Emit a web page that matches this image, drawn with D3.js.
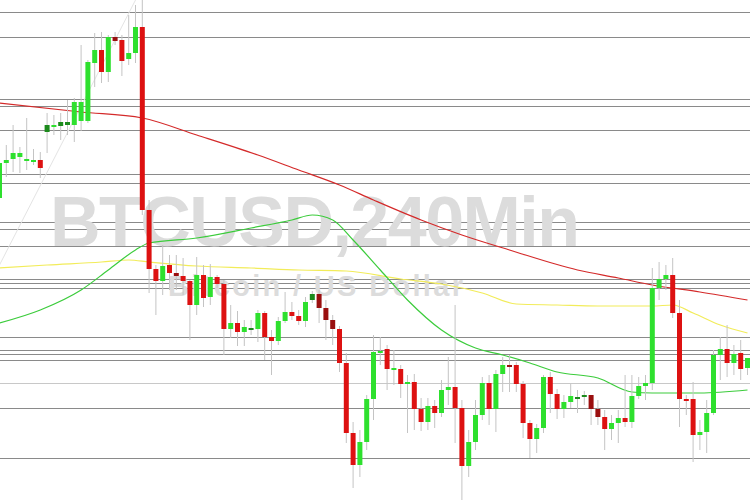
<!DOCTYPE html>
<html><head><meta charset="utf-8">
<script src="https://cdn.jsdelivr.net/npm/d3@7"></script>
<style>body{margin:0;background:#fff}svg{display:block}</style>
</head><body>
<script>
// price units: chart-level values
const opens  = [302,337,341,343,340,340,340,368,375,374,375,375,379,379,437,450,428,463,460,441,447,473,290,231,219,235,227,224,219,195,225,203,223,216,171,177,168,172,171,187,163,159,179,188,184,179,200,206,192,180,171,137,67,35,58,101,149,151,132,131,116,118,91,78,94,87,110,113,92,34,58,85,117,91,126,135,135,116,77,61,72,123,106,91,98,103,105,105,91,83,71,77,82,78,104,114,117,212,221,225,187,101,101,65,68,87,145,151,137,147,132];
const closes = [337,340,347,347,341,340,332,375,375,378,378,398,398,438,450,428,463,459,439,447,473,290,231,219,234,227,224,219,195,225,202,223,216,171,177,168,173,172,187,163,159,179,188,184,179,198,206,192,180,171,137,67,35,58,101,148,149,131,132,116,118,91,78,94,87,110,113,92,34,58,85,117,91,126,135,134,116,77,61,72,123,106,91,98,104,103,105,91,83,71,77,82,78,104,114,117,212,221,225,187,101,100,65,68,87,145,151,137,146,131,142];
const highs  = [340,355,375,353,382,351,348,387,385,387,400,402,455,440,467,468,465,468,465,485,495,500,300,235,255,245,245,242,220,243,235,236,225,220,195,189,180,180,190,189,170,183,208,198,190,203,209,210,200,185,174,147,78,70,105,165,163,155,150,135,125,126,102,102,100,120,143,195,100,70,100,123,125,130,143,145,138,119,80,76,125,128,111,105,116,110,109,105,100,90,85,90,125,125,123,125,232,238,235,242,200,105,118,80,100,150,163,175,155,160,142];
const lows   = [297,323,328,327,330,335,322,347,365,360,365,358,369,377,413,417,418,455,424,435,437,285,207,185,205,210,210,205,160,185,193,195,212,145,162,154,154,165,158,140,125,155,177,180,175,173,197,177,160,155,128,57,12,23,50,80,135,110,115,102,67,70,69,70,72,83,95,57,0,23,50,80,75,68,108,108,108,62,42,47,67,87,81,82,92,87,95,75,75,50,60,57,73,72,101,100,110,200,210,182,73,85,38,50,47,85,120,123,125,120,125];
// 1 = darker shade candle
const darkFlags = [0,0,0,0,0,0,0,1,0,1,1,0,0,0,0,0,0,1,0,0,0,0,0,0,0,0,1,0,0,0,0,0,0,0,0,0,0,1,0,0,0,0,0,0,0,0,1,1,1,1,0,0,0,0,0,0,0,0,0,0,0,0,0,0,0,0,0,0,0,0,0,0,0,0,0,1,0,0,0,0,0,0,0,0,0,1,1,1,1,0,0,0,0,0,0,0,0,0,0,0,0,0,0,0,0,0,0,0,0,0,0];

// horizontal levels
const levels = [488,463,401,394,370,326,317,278,271,254,221,217,212,163,150,146,140,117,92,42];
const lightLevels = [117];

// moving averages: [bar index, value]
const maSlow = [[0,397],[12,388],[21,382],[29,365],[38,345],[44,330],[50,315],[55,300],[62,280],[68,265],[75,250],[85,230],[91,222],[96,215],[103,208],[110,200]];
const maMid  = [[0,232],[7,235],[15,238],[19,240],[22,238],[29,234],[37,232],[44,230],[51,229],[59,221],[65,216],[71,207],[76,196],[82,195],[88,194],[96,194],[99,195],[102,187],[106,175],[110,167]];
const maFast = [[0,177],[6,190],[12,210],[16,230],[20,250],[22,257],[29,262],[37,272],[43,280],[46,285],[49,280],[52,260],[56,230],[60,200],[65,170],[70,152],[74,145],[78,137],[82,128],[88,122],[93,108],[96,107],[103,107],[110,110]];

const W = 750, H = 500;
const x = d3.scaleLinear().domain([0, 110]).range([-0.5, 747.5]);
const y = d3.scaleLinear().domain([0, 500]).range([H, 0]);

const svg = d3.select('body').append('svg').attr('width', W).attr('height', H);

svg.selectAll('line.level').data(levels).enter().append('line')
    .attr('x1', 0).attr('x2', W)
    .attr('y1', d => Math.round(y(d)) + 0.5).attr('y2', d => Math.round(y(d)) + 0.5)
    .attr('stroke', d => lightLevels.includes(d) ? '#c8c8c8' : '#8a8a8a').attr('stroke-width', 1);

// watermark
svg.append('text').attr('x', 50).attr('y', 246).text('BTCUSD,240Min')
    .attr('font-family', 'Liberation Sans, Arial, sans-serif').attr('font-weight', 'bold')
    .attr('font-size', 70).attr('fill', '#dcdcdc').attr('textLength', 530);
svg.append('text').attr('x', 168).attr('y', 296).text('Bitcoin / US Dollar')
    .attr('font-family', 'Liberation Sans, Arial, sans-serif').attr('font-weight', 'bold')
    .attr('font-size', 29).attr('fill', '#dcdcdc').attr('textLength', 295);

// faint trend line
svg.append('line').attr('x1', x(0)).attr('y1', y(235)).attr('x2', x(20)).attr('y2', y(500))
    .attr('stroke', '#e4e4e4').attr('stroke-width', 1);

const line = d3.line().x(d => x(d[0])).y(d => y(d[1])).curve(d3.curveMonotoneX);
[[maSlow, '#d42a2a'], [maMid, '#f2ec5a'], [maFast, '#3ccc3c']].forEach(([data, c]) => {
    svg.append('path').attr('d', line(data)).attr('fill', 'none').attr('stroke', c).attr('stroke-width', 1.2);
});

const bars = opens.map((o, i) => ({i, o, c: closes[i], h: highs[i], l: lows[i], dark: darkFlags[i]}));

svg.selectAll('line.wick').data(bars).enter().append('line')
    .attr('x1', d => x(d.i)).attr('x2', d => x(d.i))
    .attr('y1', d => y(d.h)).attr('y2', d => y(d.l))
    .attr('stroke', '#c4c4c4').attr('stroke-width', 1);

svg.selectAll('rect.body').data(bars).enter().append('rect')
    .attr('x', d => x(d.i) - 2.5).attr('width', 5)
    .attr('y', d => y(Math.max(d.o, d.c)))
    .attr('height', d => Math.max(2, Math.abs(y(d.o) - y(d.c))))
    .attr('fill', d => d.c >= d.o ? (d.dark ? '#1c8a1c' : '#2ee02e') : (d.dark ? '#9a0f0f' : '#dd1111'));
</script>
</body></html>
